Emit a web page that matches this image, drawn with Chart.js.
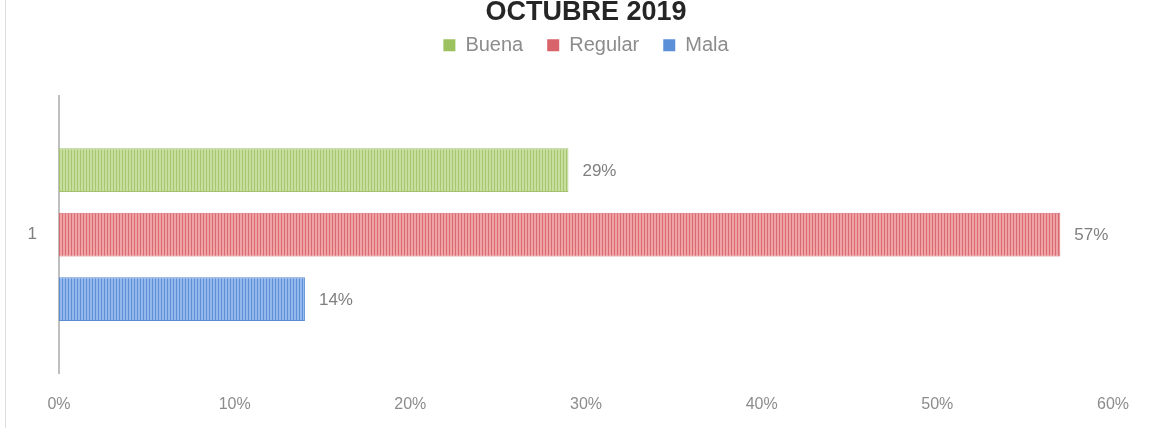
<!DOCTYPE html>
<html>
<head>
<meta charset="utf-8">
<script src="https://cdn.jsdelivr.net/npm/chart.js@4"></script>
<style>
  html, body { margin: 0; padding: 0; background: #ffffff; }
  #wrap { width: 1151px; height: 428px; }
</style>
</head>
<body>
<div id="wrap"><canvas id="c" width="1151" height="428"></canvas></div>
<script>
// Survey results, October 2019
const categories = ['1'];
const seriesNames = ['Buena', 'Regular', 'Mala'];
const buenaValues = [29];
const regularValues = [57];
const malaValues = [14];
const tickValues = [0, 10, 20, 30, 40, 50, 60];

// Narrow vertical stripe fill, like a patterned office chart bar
function stripes(light, dark) {
  const p = document.createElement('canvas');
  p.width = 3; p.height = 4;
  const g = p.getContext('2d');
  g.fillStyle = light; g.fillRect(0, 0, 3, 4);
  g.fillStyle = dark; g.fillRect(2, 0, 1, 4);
  return g.createPattern(p, 'repeat');
}

const palette = {
  Buena:   { light: '#c6df9f', dark: '#a7c66f', edge: '#a3c26c', key: '#9bc25e' },
  Regular: { light: '#f0a3a6', dark: '#d86a70', edge: '#d26a70', key: '#d9636a' },
  Mala:    { light: '#93b8ec', dark: '#5f8fd8', edge: '#5d8bd2', key: '#5b8fd8' }
};

const seriesValues = [buenaValues, regularValues, malaValues];

const datasets = seriesNames.map((name, i) => ({
  label: name,
  data: seriesValues[i],
  backgroundColor: stripes(palette[name].light, palette[name].dark),
  borderColor: palette[name].edge,
  borderWidth: 1,
  borderSkipped: false,
  categoryPercentage: 0.70,
  barPercentage: 0.677
}));

// Percentage labels at the end of each bar
const valueLabels = {
  id: 'valueLabels',
  afterDatasetsDraw(chart) {
    const ctx = chart.ctx;
    ctx.save();
    ctx.font = '17px "Liberation Sans", Arial, sans-serif';
    ctx.fillStyle = '#7f7f7f';
    ctx.textBaseline = 'middle';
    ctx.textAlign = 'left';
    chart.data.datasets.forEach((ds, i) => {
      chart.getDatasetMeta(i).data.forEach((bar, j) => {
        ctx.fillText(ds.data[j] + '%', bar.x + 14, bar.y + 1);
      });
    });
    ctx.restore();
  }
};

// Thin frame line on the left edge
const frameEdge = {
  id: 'frameEdge',
  afterDraw(chart) {
    const ctx = chart.ctx;
    ctx.save();
    ctx.strokeStyle = '#dedede';
    ctx.lineWidth = 1;
    ctx.beginPath();
    ctx.moveTo(5.5, 0);
    ctx.lineTo(5.5, chart.height);
    ctx.stroke();
    ctx.restore();
  }
};

new Chart(document.getElementById('c'), {
  type: 'bar',
  data: { labels: categories, datasets: datasets },
  plugins: [valueLabels, frameEdge],
  options: {
    indexAxis: 'y',
    responsive: false,
    animation: false,
    devicePixelRatio: 1,
    layout: { padding: { left: 0, right: 34, top: 0, bottom: 0 } },
    plugins: {
      title: {
        display: true,
        fullSize: false,
        text: 'OCTUBRE 2019',
        color: '#262626',
        font: { family: '"Liberation Sans", Arial, sans-serif', size: 27, weight: 'bold', lineHeight: 0.9 },
        padding: { top: 0, bottom: -13 }
      },
      subtitle: {
        display: true,
        fullSize: false,
        text: '',
        weight: 500,
        font: { size: 10, lineHeight: 1 },
        padding: { top: 21, bottom: 0 }
      },
      legend: {
        display: true,
        fullSize: false,
        position: 'top',
        labels: {
          boxWidth: 12,
          boxHeight: 12,
          padding: 24,
          color: '#8c8c8c',
          font: { family: '"Liberation Sans", Arial, sans-serif', size: 20 },
          generateLabels(chart) {
            return chart.data.datasets.map((ds, i) => ({
              text: ds.label,
              fillStyle: palette[ds.label].key,
              strokeStyle: palette[ds.label].key,
              lineWidth: 0,
              fontColor: '#8c8c8c',
              hidden: false,
              datasetIndex: i
            }));
          }
        }
      },
      tooltip: { enabled: false }
    },
    scales: {
      x: {
        min: tickValues[0],
        max: tickValues[tickValues.length - 1],
        afterBuildTicks(scale) { scale.ticks = tickValues.map(v => ({ value: v })); },
        grid: { display: false, drawTicks: false },
        border: { display: false },
        ticks: {
          padding: 22,
          color: '#8c8c8c',
          font: { family: '"Liberation Sans", Arial, sans-serif', size: 16 },
          callback: v => v + '%'
        },
        afterFit(scale) { scale.height = 55; }
      },
      y: {
        grid: { display: false, drawTicks: false },
        border: { display: true, color: '#bfbfbf', width: 2 },
        ticks: {
          padding: 22,
          color: '#7f7f7f',
          font: { family: '"Liberation Sans", Arial, sans-serif', size: 17 }
        },
        afterFit(scale) { scale.width = 59; }
      }
    }
  }
});
</script>
</body>
</html>
